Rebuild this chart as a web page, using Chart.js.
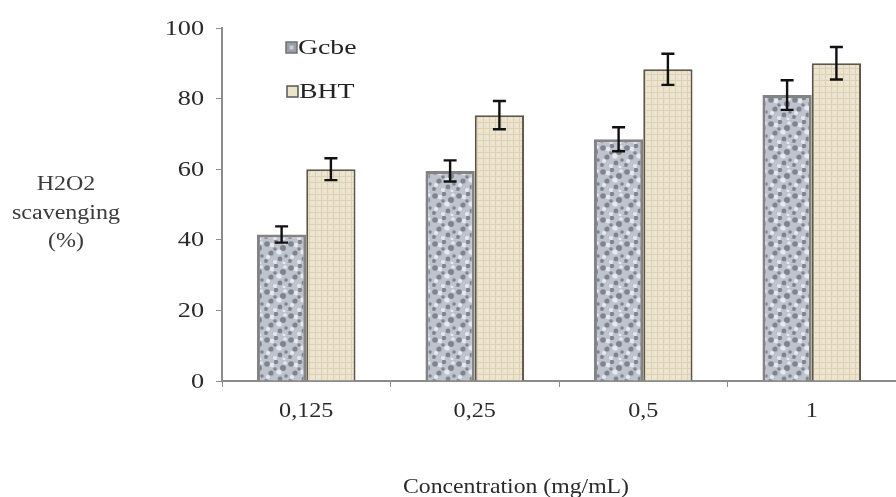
<!DOCTYPE html>
<html>
<head>
<meta charset="utf-8">
<script src="https://cdn.jsdelivr.net/npm/chart.js@4/dist/chart.umd.min.js"></script>
<style>
html,body{margin:0;padding:0;background:#fff;}
#wrap{width:896px;height:497px;position:relative;}
</style>
</head>
<body>
<div id="wrap"><canvas id="c" width="896" height="497"></canvas></div>
<script>
const categories = ['0,125', '0,25', '0,5', '1'];
const seriesNames = ['Gcbe', 'BHT'];
const gcbeValues = [41.5, 59.5, 68.5, 81];
const bhtValues = [60, 75.3, 88.3, 90];
const gcbeErrors = [2.3, 3, 3.4, 4.2];
const bhtErrors = [3.1, 4, 4.4, 4.6];
const yTicks = [0, 20, 40, 60, 80, 100];
const yTitleLines = ['H2O2', 'scavenging', '(%)'];
const xTitle = 'Concentration (mg/mL)';

const FONT = '"Liberation Serif", "DejaVu Serif", serif';

function makeGrayPattern() {
  const c = document.createElement('canvas');
  c.width = 24; c.height = 24;
  const g = c.getContext('2d');
  g.fillStyle = '#bfc3ce'; g.fillRect(0, 0, 24, 24);
  const dark = [[3,4,2.8],[12,2,2.2],[19,8,3],[7,13,2.6],[16,19,2.4],[2,21,2],[11,9,1.8],[22,16,1.8]];
  g.fillStyle = '#80848f';
  dark.forEach(([x,y,r]) => { g.beginPath(); g.arc(x,y,r,0,Math.PI*2); g.fill(); });
  const light = [[8,5,2.2],[15,12,2.6],[4,17,2],[21,3,1.8],[11,22,2],[20,23,1.4]];
  g.fillStyle = '#e6e9f0';
  light.forEach(([x,y,r]) => { g.beginPath(); g.arc(x,y,r,0,Math.PI*2); g.fill(); });
  return g.createPattern(c, 'repeat');
}
function makeBeigePattern() {
  const c = document.createElement('canvas');
  c.width = 6; c.height = 6;
  const g = c.getContext('2d');
  g.fillStyle = '#ece4cf'; g.fillRect(0, 0, 6, 6);
  g.fillStyle = '#ddd1b3';
  g.fillRect(0, 2, 6, 1);
  g.fillRect(3, 0, 1, 6);
  g.fillStyle = '#f4efe2';
  g.fillRect(1, 4, 1, 1);
  return g.createPattern(c, 'repeat');
}
const grayPat = makeGrayPattern();
const beigePat = makeBeigePattern();

function stretchText(ctx, text, x, y, align, sx) {
  ctx.save();
  ctx.translate(x, y);
  ctx.scale(sx, 1);
  ctx.textAlign = align;
  ctx.fillText(text, 0, 0);
  ctx.restore();
}

const errorBarPlugin = {
  id: 'errorBars',
  afterDatasetsDraw(chart) {
    const ctx = chart.ctx;
    const y = chart.scales.y;
    const errs = [gcbeErrors, bhtErrors];
    ctx.save();
    ctx.strokeStyle = '#111';
    ctx.lineWidth = 2.4;
    chart.data.datasets.forEach((ds, di) => {
      const meta = chart.getDatasetMeta(di);
      meta.data.forEach((bar, i) => {
        const v = ds.data[i], e = errs[di][i];
        const x = bar.x;
        const yTop = y.getPixelForValue(v + e);
        const yBot = y.getPixelForValue(v - e);
        ctx.beginPath();
        ctx.moveTo(x, yTop); ctx.lineTo(x, yBot);
        ctx.moveTo(x - 6.5, yTop); ctx.lineTo(x + 6.5, yTop);
        ctx.moveTo(x - 6.5, yBot); ctx.lineTo(x + 6.5, yBot);
        ctx.stroke();
      });
    });
    ctx.restore();
  }
};

const textPlugin = {
  id: 'extraText',
  afterDraw(chart) {
    const ctx = chart.ctx;
    const xs = chart.scales.x, ys = chart.scales.y;
    ctx.save();
    ctx.textBaseline = 'middle';
    ctx.fillStyle = '#2a2a2a';
    ctx.font = '21px ' + FONT;
    yTicks.forEach(v => stretchText(ctx, String(v), 204, ys.getPixelForValue(v) + 1, 'right', 1.25));
    categories.forEach((c, i) => stretchText(ctx, c, xs.getPixelForValue(i), 411, 'center', 1.15));
    stretchText(ctx, xTitle, 516, 487, 'center', 1.13);
    ctx.fillStyle = '#3a3a3a';
    ctx.font = '20px ' + FONT;
    yTitleLines.forEach((t, i) => stretchText(ctx, t, 66, 185 + i * 28.5, 'center', 1.2));
    const items = [
      {name: seriesNames[0], fill: '#9a9ea9', border: '#707070', x: 286, y: 47},
      {name: seriesNames[1], fill: '#ece3cb', border: '#555', x: 287, y: 91}
    ];
    ctx.font = '21px ' + FONT;
    items.forEach(it => {
      ctx.fillStyle = it.fill;
      ctx.fillRect(it.x, it.y - 5, 11, 11);
      ctx.strokeStyle = it.border;
      ctx.lineWidth = 1.5;
      ctx.strokeRect(it.x, it.y - 5, 11, 11);
      if (it.name === 'Gcbe') {
        ctx.fillStyle = '#c8ccd4';
        ctx.fillRect(it.x + 3.5, it.y - 1.5, 4, 4);
      }
      ctx.fillStyle = '#222';
      stretchText(ctx, it.name, it.x + 12, it.y + 1, 'left', 1.32);
    });
    ctx.restore();
  }
};

new Chart(document.getElementById('c'), {
  type: 'bar',
  data: {
    labels: categories,
    datasets: [
      {label: seriesNames[0], data: gcbeValues, backgroundColor: grayPat, borderColor: '#838383', borderWidth: 3},
      {label: seriesNames[1], data: bhtValues, backgroundColor: beigePat, borderColor: '#5e5646', borderWidth: 2}
    ]
  },
  options: {
    responsive: false,
    animation: false,
    devicePixelRatio: 1,
    layout: {padding: {top: 28, right: -6, bottom: 0, left: 0}},
    datasets: {bar: {categoryPercentage: 0.585, barPercentage: 1}},
    plugins: {legend: {display: false}, tooltip: {enabled: false}},
    scales: {
      x: {
        grid: {display: true, drawOnChartArea: false, drawTicks: true, tickLength: 6, color: '#8c8c8c', offset: true},
        border: {display: true, color: '#8c8c8c', width: 2},
        ticks: {display: false},
        title: {display: false},
        afterFit(s) { s.height = 116; }
      },
      y: {
        min: 0, max: 100,
        afterBuildTicks(s) { s.ticks = yTicks.map(v => ({value: v})); },
        grid: {display: true, drawOnChartArea: false, drawTicks: true, tickLength: 6, color: '#8c8c8c'},
        border: {display: true, color: '#8c8c8c', width: 2},
        ticks: {display: false},
        afterFit(s) { s.width = 222; }
      }
    }
  },
  plugins: [errorBarPlugin, textPlugin]
});
</script>
</body>
</html>
